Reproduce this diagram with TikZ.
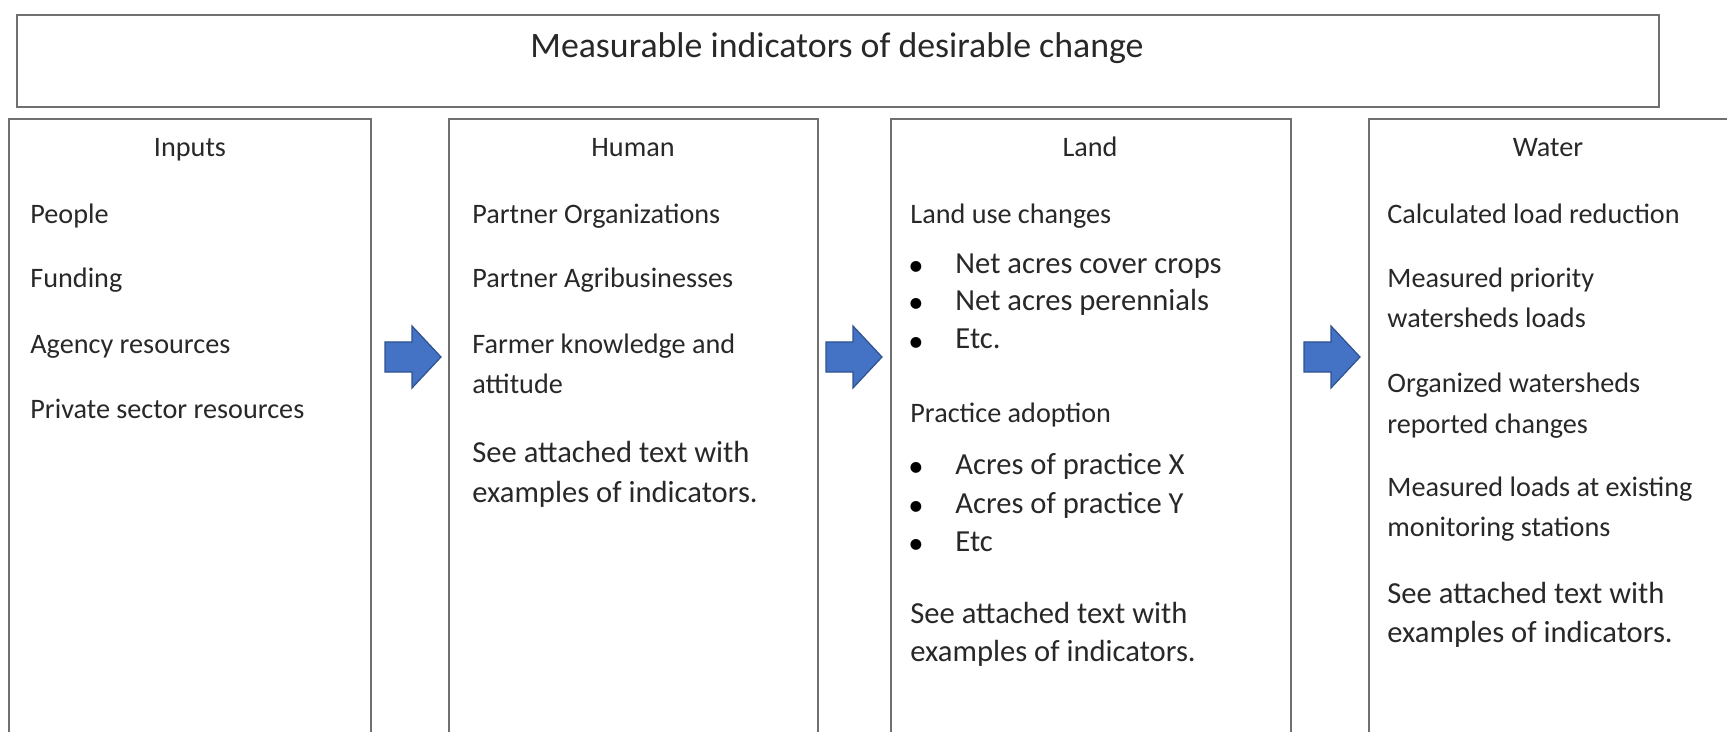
\documentclass[tikz,border=0pt]{standalone}
\usepackage{fontspec}
\setmainfont{Carlito}
\definecolor{boxgray}{RGB}{112,112,112}
\definecolor{textc}{RGB}{40,40,40}
\definecolor{arrowfill}{RGB}{68,114,196}
\definecolor{arrowdraw}{RGB}{47,82,143}
\begin{document}
\begin{tikzpicture}[x=0.5pt,y=-0.5pt,
  box/.style={draw=boxgray, line width=1.1pt, inner sep=0pt, anchor=north west},
  txt/.style={anchor=west, inner sep=0pt, text height=0.7em, text depth=0.2em, text=textc, font=\fontsize{14.1}{17}\selectfont},
  bigtxt/.style={txt, font=\fontsize{15.3}{18}\selectfont},
  hdr/.style={txt, anchor=center},
  titletxt/.style={txt, anchor=center, font=\fontsize{17.9}{21}\selectfont},
  bul/.style={inner sep=0pt, anchor=center, text=black, font=\fontsize{15.3}{18}\selectfont},
  blockarrow/.style={fill=arrowfill, draw=arrowdraw, line width=0.6pt, line join=miter}
]
\useasboundingbox (0,0) rectangle (1727,732);
\fill[white] (0,0) rectangle (1727,732);

% title box
\node[box, minimum width=821pt, minimum height=46pt] (top) at (16,14) {};
\node[titletxt] (title) at (837,53) {Measurable indicators of desirable change};

% column boxes (extend past the lower edge)
\node[box, minimum width=181pt, minimum height=330pt] (inputs) at (8,118) {};
\node[box, minimum width=184.5pt, minimum height=330pt] (human) at (448,118) {};
\node[box, minimum width=200pt, minimum height=330pt] (land) at (890,118) {};
\node[box, minimum width=200pt, minimum height=330pt] (water) at (1368,118) {};

% headers
\node[hdr] (hInputs) at (190,152) {Inputs};
\node[hdr] (hHuman) at (633,152) {Human};
\node[hdr] (hLand) at (1090,152) {Land};
\node[hdr] (hWater) at (1548,152) {Water};

% Inputs
\node[txt] (i1) at (30,219) {People};
\node[txt] (i2) at (30,283) {Funding};
\node[txt] (i3) at (30,348) {Agency resources};
\node[txt] (i4) at (30,413) {Private sector resources};

% Human
\node[txt] (h1) at (472,219) {Partner Organizations};
\node[txt] (h2) at (472,283) {Partner Agribusinesses};
\node[txt] (h3) at (472,348) {Farmer knowledge and};
\node[txt] (h4) at (472,388) {attitude};
\node[bigtxt] (h5) at (472,457) {See attached text with};
\node[bigtxt] (h6) at (472,497) {examples of indicators.};

% Land
\node[txt] (l1) at (910,219) {Land use changes};
\node[bul] (b1) at (916,269) {\textbullet};
\node[bigtxt] (l2) at (955,269) {Net acres cover crops};
\node[bul] (b2) at (916,306) {\textbullet};
\node[bigtxt] (l3) at (955,306) {Net acres perennials};
\node[bul] (b3) at (916,344) {\textbullet};
\node[bigtxt] (l4) at (955,344) {Etc.};
\node[txt] (l5) at (910,417) {Practice adoption};
\node[bul] (b4) at (916,469) {\textbullet};
\node[bigtxt] (l6) at (955,469) {Acres of practice X};
\node[bul] (b5) at (916,508) {\textbullet};
\node[bigtxt] (l7) at (955,508) {Acres of practice Y};
\node[bul] (b6) at (916,546) {\textbullet};
\node[bigtxt] (l8) at (955,546) {Etc};
\node[bigtxt] (l9) at (910,618) {See attached text with};
\node[bigtxt] (l10) at (910,656) {examples of indicators.};

% Water
\node[txt] (w1) at (1387,219) {Calculated load reduction};
\node[txt] (w2) at (1387,283) {Measured priority};
\node[txt] (w3) at (1387,323) {watersheds loads};
\node[txt] (w4) at (1387,387) {Organized watersheds};
\node[txt] (w5) at (1387,428) {reported changes};
\node[txt] (w6) at (1387,491) {Measured loads at existing};
\node[txt] (w7) at (1387,531) {monitoring stations};
\node[bigtxt] (w8) at (1387,598) {See attached text with};
\node[bigtxt] (w9) at (1387,637) {examples of indicators.};

% block arrows
\foreach \ax/\nm in {385/a1, 826/a2, 1304/a3}{
  \coordinate (\nm) at (\ax,357);
  \draw[blockarrow, shift={(\nm)}] (0,-15) -- (27,-15) -- (27,-31) -- (56,0) -- (27,31) -- (27,15) -- (0,15) -- cycle;
}
\end{tikzpicture}
\end{document}
